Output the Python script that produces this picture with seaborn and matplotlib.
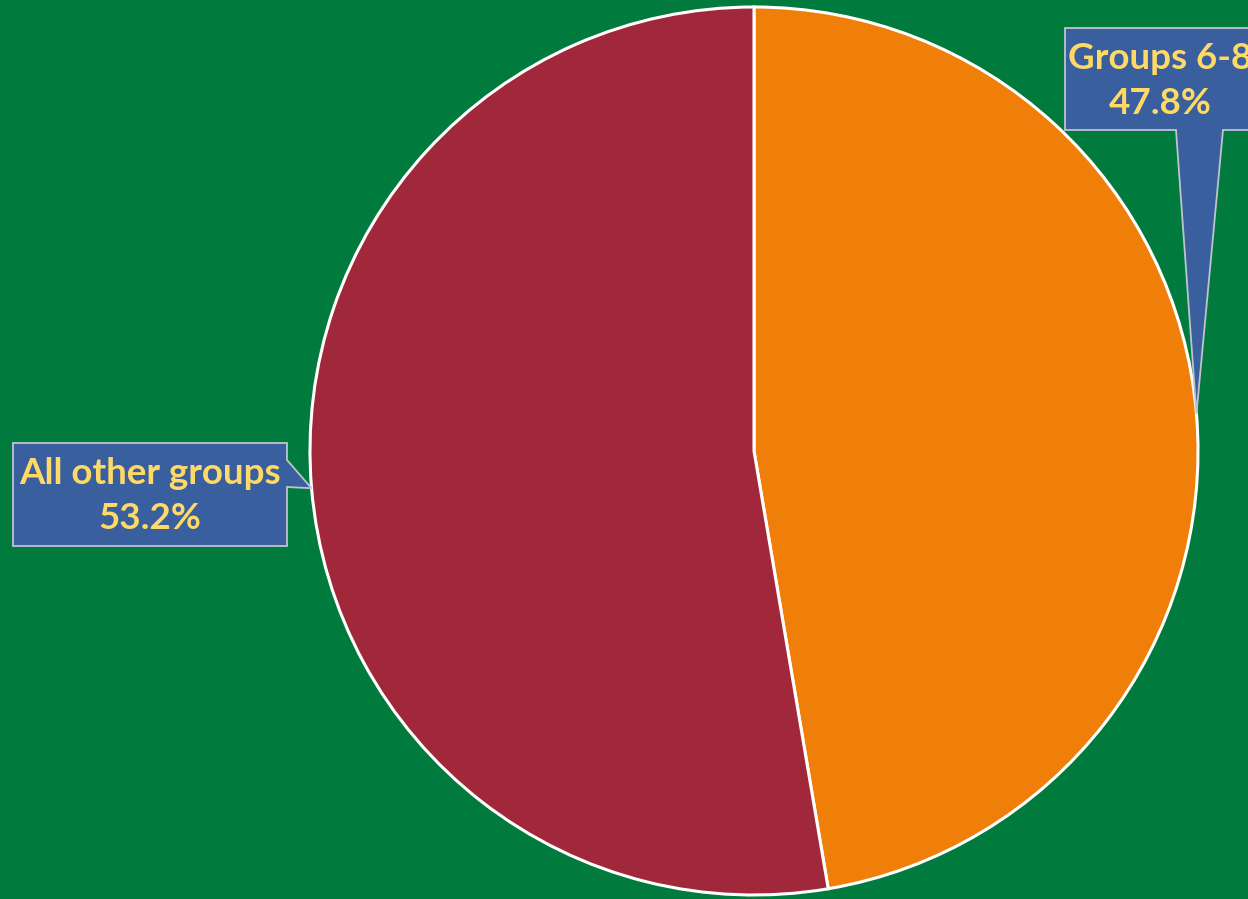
import matplotlib
matplotlib.use("Agg")
import matplotlib.pyplot as plt
import seaborn as sns
import numpy as np
from matplotlib.patches import Polygon

categories = ["Groups 6-8", "All other groups"]
values = [47.8, 53.2]
labels = ["47.8%", "53.2%"]
colors = ["#F07F09", "#A0283A"]

sns.set_style("white")
plt.rcParams['font.family'] = ['Lato', 'DejaVu Sans']

W, H = 1248, 899
fig = plt.figure(figsize=(W / 100, H / 100), dpi=100)
bg = "#007A3D"
fig.patch.set_facecolor(bg)
ax = fig.add_axes([0, 0, 1, 1])
ax.set_facecolor(bg)
ax.axis("off")

cx, cy, R = 754, 451, 444  # pixel centre/radius


def px(x, y):
    return ((x - cx) / R, (cy - y) / R)


wedges, _ = ax.pie(values, colors=colors, startangle=90, counterclock=False,
                   radius=1, center=(0, 0),
                   wedgeprops=dict(edgecolor="white", linewidth=2.2))
ax.set_aspect("auto")
ax.set_xlim(-cx / R, (W - cx) / R)
ax.set_ylim(-(H - cy) / R, cy / R)

box_fc = "#3A5F9E"
box_ec = "#BFC4CC"
txt_c = "#FFD966"
fs = 26.5
ls = 1.42

# callout 1 (Groups 6-8)
w0 = wedges[0]
mid0 = np.deg2rad((w0.theta1 + w0.theta2) / 2)
tip0 = (np.cos(mid0), np.sin(mid0))
poly0 = [px(1065, 28), px(1260, 28), px(1260, 130), px(1223, 130), tip0,
         px(1176, 130), px(1065, 130)]
ax.add_patch(Polygon(poly0, closed=True, facecolor=box_fc, edgecolor=box_ec,
                     linewidth=1.3, zorder=5))
ax.text(*px(1160, 81), f"{categories[0]}\n{labels[0]}", ha="center", va="center",
        color=txt_c, fontsize=fs, fontweight="bold", linespacing=ls, zorder=6)

# callout 2 (All other groups)
w1 = wedges[1]
mid1 = np.deg2rad((w1.theta1 + w1.theta2) / 2)
tip1 = (np.cos(mid1), np.sin(mid1))
poly1 = [px(13, 443), px(287, 443), px(287, 460), tip1, px(287, 487),
         px(287, 546), px(13, 546)]
ax.add_patch(Polygon(poly1, closed=True, facecolor=box_fc, edgecolor=box_ec,
                     linewidth=1.3, zorder=5))
ax.text(*px(150, 496), f"{categories[1]}\n{labels[1]}", ha="center", va="center",
        color=txt_c, fontsize=fs, fontweight="bold", linespacing=ls, zorder=6)

fig.savefig("out.png", dpi=100, facecolor=bg)
